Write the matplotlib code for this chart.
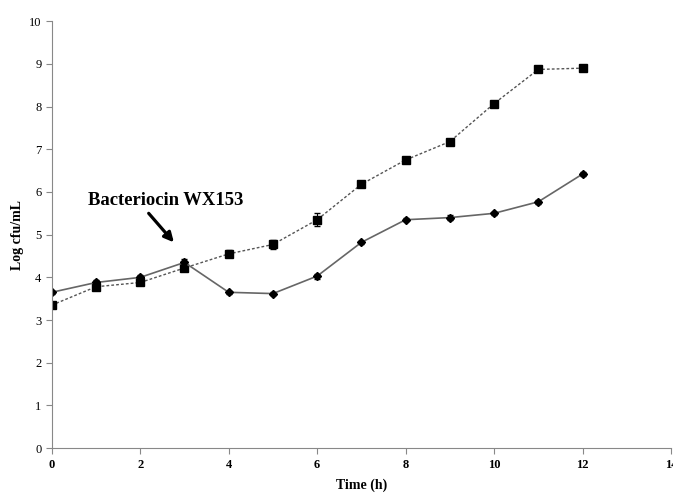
import matplotlib
matplotlib.use('Agg')
from matplotlib import pyplot as plt
import numpy as np

time_h = [0, 1, 2, 3, 4, 5, 6, 7, 8, 9, 10, 11, 12]
control = [3.35, 3.78, 3.88, 4.22, 4.55, 4.77, 5.35, 6.18, 6.75, 7.18, 8.07, 8.87, 8.9]
control_err = [0.05, 0.05, 0.05, 0.06, 0.08, 0.1, 0.15, 0.04, 0.04, 0.04, 0.04, 0.04, 0.04]
treated = [3.65, 3.88, 4.0, 4.35, 3.65, 3.62, 4.03, 4.82, 5.35, 5.4, 5.5, 5.77, 6.42]
treated_err = [0.04, 0.05, 0.05, 0.08, 0.04, 0.03, 0.06, 0.04, 0.04, 0.06, 0.04, 0.05, 0.04]

plt.rcParams['font.family'] = ['Liberation Serif', 'DejaVu Serif']

fig = plt.figure(figsize=(6.73, 4.93), dpi=100)
ax = fig.add_axes([0.077, 0.091, 0.92, 0.866])

ax.errorbar(time_h, control, yerr=control_err, color='#555555', linestyle=(0, (2, 1.5)),
            linewidth=1.0, marker='s', markersize=5.5, markerfacecolor='black',
            markeredgecolor='black', ecolor='black', elinewidth=0.8, capsize=2)
ax.errorbar(time_h, treated, yerr=treated_err, color='#666666', linestyle='-',
            linewidth=1.2, marker='D', markersize=4, markerfacecolor='black',
            markeredgecolor='black', ecolor='black', elinewidth=0.8, capsize=2)

# label + arrow for the bacteriocin addition
ax.text(0.81, 5.8, 'Bacteriocin WX153', fontsize=13.4, fontweight='bold',
        va='center', ha='left')
ax.annotate('', xy=(2.76, 4.82), xytext=(2.19, 5.5),
            arrowprops=dict(arrowstyle='-|>', color='black', lw=2.3,
                            shrinkA=0, shrinkB=0, mutation_scale=14))

ax.set_xlim(0, 14)
ax.set_ylim(0, 10)
ax.set_xticks(np.arange(0, 15, 2))
ax.set_yticks(np.arange(0, 11, 1))
for lab in ax.get_xticklabels():
    lab.set_fontweight('bold')
ax.tick_params(labelsize=9, length=4, color='#888888', width=0.8)
ax.set_xlabel('Time (h)', fontsize=10, fontweight='bold')
ax.set_ylabel('Log cfu/mL', fontsize=10, fontweight='bold')
ax.xaxis.set_label_coords(0.5, -0.071)
ax.yaxis.set_label_coords(-0.045, 0.5)
for s in ['top', 'right']:
    ax.spines[s].set_visible(False)
for s in ['left', 'bottom']:
    ax.spines[s].set_color('#888888')
    ax.spines[s].set_linewidth(0.8)

plt.savefig('out.png', dpi=100)
